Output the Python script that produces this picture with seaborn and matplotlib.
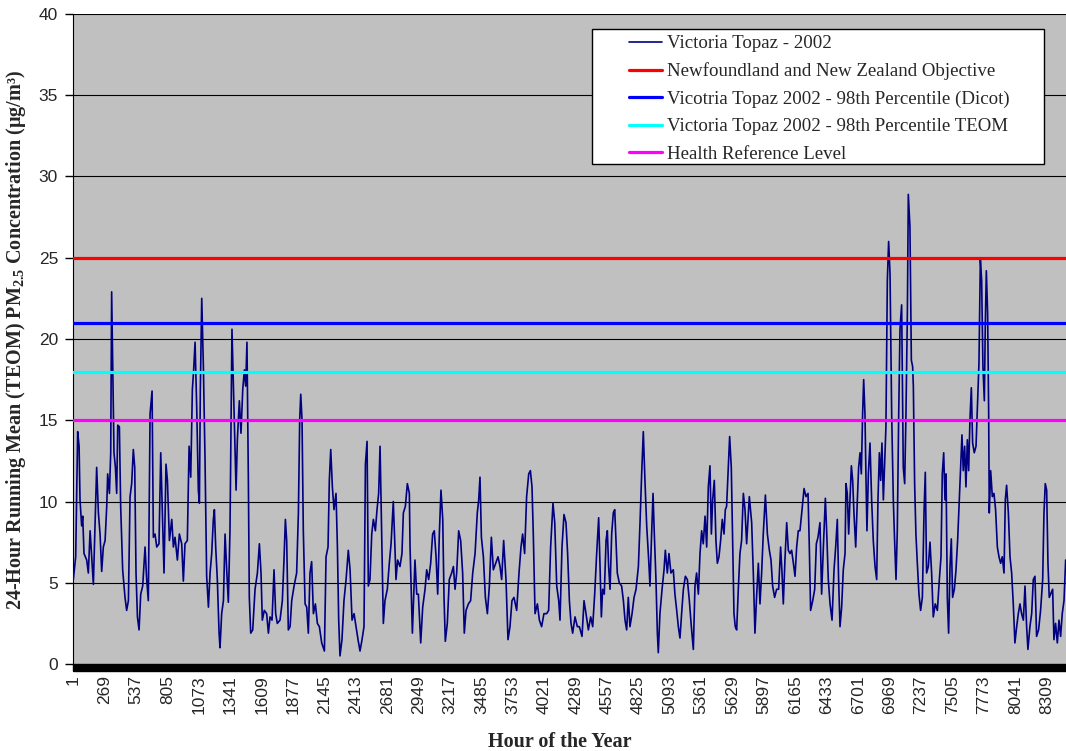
import matplotlib
matplotlib.use("Agg")
import matplotlib.pyplot as plt
from matplotlib.patches import Rectangle
import pandas as pd
import seaborn as sns

# 24-hour running mean PM2.5 (hour of year, ug/m3)
HOURS = [
    1, 21, 38, 50, 58, 72, 81, 92, 115, 129, 144, 158, 172, 186, 200, 215, 229, 243, 257, 272,
    286, 294, 309, 320, 328, 337, 348, 360, 371, 380, 394, 405, 422, 442, 456, 471, 485, 499, 513, 525,
    536, 548, 562, 576, 593, 613, 627, 641, 656, 673, 684, 698, 713, 732, 747, 761, 775, 792, 804, 821,
    841, 855, 869, 889, 906, 926, 940, 954, 974, 989, 1003, 1017, 1028, 1040, 1054, 1068, 1077, 1085, 1097, 1111,
    1125, 1139, 1154, 1168, 1182, 1196, 1205, 1216, 1230, 1245, 1253, 1267, 1282, 1296, 1310, 1324, 1338, 1355, 1381, 1390,
    1401, 1418, 1432, 1447, 1461, 1472, 1483, 1495, 1503, 1515, 1532, 1552, 1572, 1589, 1603, 1614, 1631, 1651, 1666, 1680,
    1697, 1714, 1728, 1742, 1765, 1785, 1799, 1811, 1822, 1836, 1851, 1865, 1885, 1907, 1922, 1933, 1942, 1953, 1964, 1979,
    1993, 2007, 2021, 2035, 2050, 2067, 2084, 2101, 2121, 2144, 2158, 2175, 2186, 2198, 2212, 2226, 2243, 2255, 2266, 2277,
    2294, 2311, 2329, 2348, 2363, 2380, 2397, 2414, 2431, 2448, 2465, 2482, 2494, 2508, 2519, 2533, 2548, 2562, 2579, 2593,
    2607, 2619, 2633, 2647, 2661, 2681, 2698, 2713, 2732, 2744, 2755, 2769, 2789, 2806, 2818, 2835, 2852, 2869, 2875, 2895,
    2917, 2932, 2946, 2966, 2983, 3003, 3017, 3034, 3051, 3068, 3082, 3097, 3111, 3125, 3139, 3154, 3165, 3176, 3193, 3210,
    3230, 3245, 3259, 3273, 3290, 3307, 3324, 3338, 3353, 3373, 3392, 3410, 3430, 3449, 3461, 3472, 3484, 3501, 3518, 3535,
    3552, 3569, 3586, 3606, 3626, 3643, 3657, 3674, 3694, 3711, 3728, 3745, 3762, 3785, 3805, 3822, 3836, 3853, 3870, 3888,
    3902, 3916, 3927, 3942, 3962, 3979, 3998, 4018, 4041, 4058, 4075, 4095, 4110, 4127, 4144, 4155, 4172, 4189, 4206, 4220,
    4235, 4249, 4263, 4283, 4303, 4320, 4343, 4360, 4377, 4397, 4417, 4434, 4451, 4468, 4485, 4496, 4508, 4519, 4533, 4548,
    4559, 4570, 4582, 4596, 4610, 4622, 4633, 4644, 4661, 4681, 4696, 4710, 4724, 4738, 4752, 4770, 4787, 4804, 4824, 4838,
    4852, 4866, 4880, 4895, 4912, 4923, 4937, 4949, 4960, 4974, 4986, 4994, 5008, 5026, 5043, 5054, 5071, 5085, 5102, 5122,
    5136, 5151, 5165, 5179, 5193, 5208, 5225, 5242, 5259, 5276, 5293, 5307, 5321, 5336, 5350, 5364, 5378, 5393, 5407, 5421,
    5435, 5447, 5458, 5472, 5486, 5498, 5512, 5526, 5540, 5555, 5566, 5577, 5592, 5603, 5617, 5629, 5640, 5651, 5663, 5677,
    5691, 5705, 5720, 5734, 5748, 5771, 5791, 5805, 5819, 5834, 5848, 5862, 5876, 5890, 5908, 5925, 5942, 5956, 5970, 5987,
    6004, 6021, 6038, 6050, 6061, 6075, 6090, 6104, 6118, 6132, 6147, 6161, 6175, 6189, 6203, 6221, 6238, 6255, 6272, 6283,
    6294, 6312, 6329, 6343, 6357, 6374, 6388, 6403, 6420, 6431, 6445, 6460, 6477, 6494, 6508, 6522, 6533, 6545, 6559, 6573,
    6588, 6596, 6607, 6619, 6630, 6642, 6653, 6664, 6679, 6693, 6704, 6716, 6727, 6738, 6747, 6758, 6767, 6775, 6787, 6801,
    6815, 6829, 6844, 6858, 6869, 6881, 6892, 6903, 6915, 6926, 6937, 6949, 6960, 6972, 6986, 7000, 7011, 7023, 7034, 7046,
    7057, 7071, 7085, 7097, 7108, 7120, 7128, 7142, 7154, 7165, 7171, 7182, 7193, 7205, 7219, 7233, 7248, 7262, 7273, 7284,
    7299, 7313, 7327, 7341, 7358, 7376, 7393, 7407, 7418, 7430, 7441, 7450, 7461, 7472, 7484, 7495, 7506, 7521, 7535, 7549,
    7563, 7575, 7586, 7597, 7609, 7620, 7632, 7643, 7654, 7666, 7677, 7691, 7706, 7720, 7731, 7743, 7754, 7765, 7777, 7785,
    7794, 7805, 7814, 7819, 7831, 7845, 7859, 7873, 7888, 7902, 7916, 7930, 7945, 7956, 7967, 7982, 7996, 8010, 8024, 8038,
    8053, 8067, 8081, 8095, 8110, 8124, 8138, 8149, 8166, 8181, 8195, 8209, 8223, 8240, 8257, 8275, 8286, 8297, 8309, 8320,
    8331, 8343, 8360, 8371, 8385, 8400, 8414, 8428, 8442, 8457, 8471,
]
PM25 = [
    5.2, 6.6, 14.3, 13.4, 10.1, 8.5, 9.1, 6.8, 6.4, 5.6, 8.2, 6.6, 4.9, 8.6, 12.1, 9.3, 8.0, 5.7, 7.2, 7.6,
    9.7, 11.7, 10.5, 13.0, 22.9, 18.5, 13.0, 12.1, 10.5, 14.7, 14.6, 9.7, 5.8, 4.1, 3.3, 3.9, 10.3, 11.1, 13.2, 12.1,
    5.6, 2.9, 2.1, 4.3, 4.8, 7.2, 5.2, 3.9, 15.4, 16.8, 7.8, 8.0, 7.2, 7.4, 13.0, 9.3, 5.6, 12.3, 11.3, 7.6,
    8.9, 7.2, 7.8, 6.4, 8.0, 7.4, 5.1, 7.4, 7.6, 13.4, 11.5, 16.9, 18.1, 19.8, 15.8, 10.7, 9.9, 16.9, 22.5, 18.3,
    12.6, 5.4, 3.5, 5.6, 6.8, 8.9, 9.5, 7.2, 5.2, 1.9, 1.0, 3.1, 3.9, 8.0, 5.8, 3.8, 8.2, 20.6, 13.4, 10.7,
    13.8, 16.2, 14.2, 16.9, 18.1, 17.1, 19.8, 11.3, 4.1, 1.9, 2.1, 4.6, 5.6, 7.4, 5.6, 2.7, 3.3, 3.1, 1.9, 2.9,
    2.7, 5.8, 3.1, 2.5, 2.7, 3.9, 6.4, 8.9, 7.6, 2.1, 2.3, 3.9, 4.8, 5.6, 9.3, 15.0, 16.6, 15.0, 8.2, 3.7,
    3.5, 1.9, 5.6, 6.3, 3.1, 3.7, 2.5, 2.3, 1.3, 0.8, 6.6, 7.2, 11.3, 13.2, 10.9, 9.5, 10.5, 7.2, 2.7, 0.5,
    1.5, 3.9, 5.2, 7.0, 5.8, 2.7, 3.1, 2.3, 1.5, 0.8, 1.5, 2.3, 12.3, 13.7, 4.8, 5.2, 8.0, 8.9, 8.2, 9.5,
    10.5, 13.4, 8.0, 2.5, 3.9, 4.6, 6.2, 7.4, 10.0, 7.6, 5.2, 6.4, 6.0, 6.8, 9.3, 9.7, 11.1, 10.5, 7.2, 1.9,
    6.4, 4.3, 4.3, 1.3, 3.5, 4.6, 5.8, 5.2, 6.2, 8.0, 8.2, 6.6, 4.3, 8.0, 10.7, 8.9, 4.1, 1.4, 2.5, 5.2,
    5.6, 6.0, 4.6, 5.6, 8.2, 7.6, 5.6, 1.9, 3.3, 3.7, 3.9, 5.6, 6.8, 9.3, 10.1, 11.5, 7.8, 6.6, 4.1, 3.1,
    4.8, 7.8, 5.8, 6.2, 6.6, 6.0, 5.2, 7.6, 5.2, 1.5, 2.3, 3.9, 4.1, 3.3, 5.6, 7.2, 8.0, 6.8, 10.3, 11.7,
    11.9, 10.9, 8.0, 3.1, 3.7, 2.7, 2.3, 3.1, 3.1, 3.3, 7.2, 9.9, 8.7, 4.8, 3.9, 2.7, 7.2, 9.2, 8.7, 6.8,
    3.9, 2.5, 1.9, 2.9, 2.3, 2.3, 1.7, 3.9, 3.1, 2.1, 2.9, 2.3, 4.3, 6.8, 9.0, 6.2, 2.9, 4.6, 4.3, 7.6,
    8.2, 6.0, 4.6, 8.0, 9.3, 9.5, 7.6, 5.6, 5.0, 4.8, 3.9, 2.7, 2.1, 4.1, 2.3, 3.1, 4.1, 4.6, 6.0, 8.7,
    11.7, 14.3, 11.3, 8.5, 6.4, 4.8, 8.0, 10.5, 8.0, 5.2, 1.9, 0.7, 3.1, 4.6, 5.8, 7.0, 5.6, 6.8, 5.6, 5.8,
    4.3, 3.3, 2.3, 1.6, 3.1, 4.6, 5.4, 5.2, 3.9, 2.3, 0.9, 4.8, 5.6, 4.3, 6.8, 8.2, 7.4, 9.1, 7.2, 10.9,
    12.2, 8.0, 10.1, 11.3, 7.6, 6.2, 6.6, 7.6, 8.9, 8.0, 9.5, 9.7, 12.1, 14.0, 12.1, 7.4, 3.1, 2.3, 2.1, 4.6,
    6.8, 7.6, 10.5, 9.5, 7.4, 10.3, 8.7, 5.6, 1.9, 4.3, 6.2, 3.7, 5.6, 8.0, 10.4, 8.0, 7.0, 6.4, 4.8, 4.1,
    4.6, 4.6, 7.2, 5.6, 3.7, 6.4, 8.7, 7.0, 6.8, 7.0, 6.2, 5.4, 7.2, 8.2, 8.2, 9.5, 10.8, 10.3, 10.5, 7.2,
    3.3, 3.9, 4.6, 7.4, 7.8, 8.7, 4.3, 7.2, 10.2, 8.2, 5.2, 3.7, 2.7, 5.8, 7.2, 8.9, 5.2, 2.3, 3.5, 5.8,
    6.8, 11.1, 10.5, 8.0, 10.1, 12.2, 11.3, 9.3, 7.2, 10.1, 12.1, 13.0, 11.7, 15.4, 17.5, 15.4, 11.3, 8.2, 11.7, 13.6,
    10.1, 7.6, 6.0, 5.2, 10.1, 13.0, 11.3, 13.6, 10.1, 12.3, 14.6, 23.6, 26.0, 24.0, 15.4, 10.1, 7.6, 5.2, 8.2, 15.4,
    20.6, 22.1, 12.1, 11.1, 15.4, 21.6, 28.9, 26.9, 18.7, 18.3, 17.1, 11.1, 8.0, 6.2, 4.3, 3.3, 4.1, 9.3, 11.8, 5.6,
    6.0, 7.5, 5.6, 2.9, 3.7, 3.3, 5.2, 6.6, 11.7, 13.0, 10.1, 11.7, 4.1, 1.9, 6.0, 7.7, 4.1, 4.6, 5.8, 7.6,
    10.1, 12.3, 14.1, 11.9, 13.4, 10.9, 13.8, 11.9, 15.0, 17.0, 13.6, 13.0, 13.4, 16.2, 18.5, 24.9, 23.6, 18.3, 16.2, 20.8,
    24.2, 21.6, 15.4, 9.3, 11.9, 10.3, 10.5, 9.5, 7.2, 6.6, 6.2, 6.6, 5.6, 10.1, 11.0, 9.3, 6.6, 5.6, 3.7, 1.3,
    2.3, 3.1, 3.7, 3.1, 2.7, 4.8, 2.3, 0.9, 2.3, 3.1, 5.2, 5.4, 1.7, 2.1, 3.3, 5.2, 9.3, 11.1, 10.7, 6.2,
    4.1, 4.3, 4.6, 1.5, 2.5, 1.3, 2.7, 1.7, 3.1, 3.9, 6.4,
]

SERIES_LABEL = "Victoria Topaz - 2002"
REF_LABELS = [
    "Newfoundland and New Zealand Objective",
    "Vicotria Topaz 2002 - 98th Percentile (Dicot)",
    "Victoria Topaz 2002 - 98th Percentile TEOM",
    "Health Reference Level",
]
REF_VALUES = [25, 21, 18, 15]
REF_COLORS = ["#FF0000", "#0000FF", "#00FFFF", "#FF00FF"]

HOUR_MIN, HOUR_MAX = 1, 8474
X_TICKS = list(range(1, 8310, 268))
Y_TICKS = [0, 5, 10, 15, 20, 25, 30, 35, 40]


def main() -> None:
    sns.set_style("ticks", {"axes.facecolor": "#C0C0C0"})
    plt.rcParams["font.family"] = ["Liberation Serif", "DejaVu Serif"]
    plt.rcParams["mathtext.default"] = "regular"

    data = pd.DataFrame({"hour": HOURS, "pm25": PM25})

    fig = plt.figure(figsize=(10.66, 7.51), dpi=100)
    ax = fig.add_axes([0.0688, 0.1158, 0.9312, 0.8656])

    for y in Y_TICKS[1:]:
        ax.axhline(y, color="black", lw=0.8, zorder=1)

    sns.lineplot(data=data, x="hour", y="pm25", color="#000080", lw=1.2,
                 label=SERIES_LABEL, ax=ax, zorder=3)
    for value, color, label in zip(REF_VALUES, REF_COLORS, REF_LABELS):
        ax.axhline(value, color=color, lw=2.3, label=label, zorder=4)

    ax.set_xlim(HOUR_MIN, HOUR_MAX)
    ax.set_ylim(0, 40)
    ax.set_xticks(X_TICKS)
    ax.set_xticklabels([str(t) for t in X_TICKS], rotation=90,
                       family="Liberation Sans", fontsize=12.5)
    ax.set_yticks(Y_TICKS)
    ax.set_yticklabels([str(t) for t in Y_TICKS], family="Liberation Sans", fontsize=12.5)
    ax.tick_params(axis="x", length=0, pad=8)
    ax.tick_params(axis="y", length=6, width=1, direction="out", pad=5, color="black")

    for side in ["top", "right"]:
        ax.spines[side].set_visible(False)
    ax.spines["left"].set_color("black")
    ax.spines["bottom"].set_visible(False)

    # dense category ticks in the original render as a solid black band
    ax.add_patch(Rectangle((0, -0.0108), 1, 0.0108, transform=ax.transAxes,
                           color="black", clip_on=False, zorder=5))

    ax.set_xlabel("Hour of the Year", fontsize=14.5, fontweight="bold")
    ax.set_ylabel("24-Hour Running Mean (TEOM) PM$_{2.5}$ Concentration (µg/m³)",
                  fontsize=14.5, fontweight="bold")
    ax.xaxis.set_label_coords(0.490, -0.1046)
    ax.yaxis.set_label_coords(-0.0456, 0.498)

    # legend: white box drawn separately, entries placed inside it
    ax.add_patch(Rectangle((0.5225, 0.7692), 0.4553, 0.2077, transform=ax.transAxes,
                           facecolor="white", edgecolor="black", lw=1.0, zorder=6))
    handles, labels = ax.get_legend_handles_labels()
    leg = ax.legend(handles, labels, loc="upper left", bbox_to_anchor=(0.5595, 0.9675),
                    frameon=False, fontsize=13.6, handlelength=1.75, handletextpad=0.25,
                    labelspacing=0.54, borderpad=0, borderaxespad=0)
    leg.set_zorder(7)

    fig.savefig("out.png", dpi=100)


if __name__ == "__main__":
    main()
